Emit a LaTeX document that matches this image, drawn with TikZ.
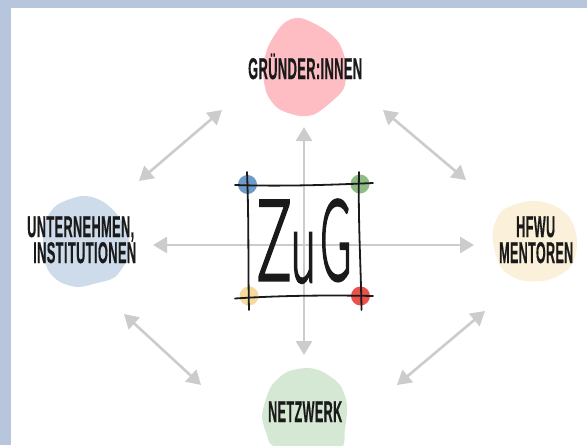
\documentclass[tikz,border=0pt]{standalone}
\usepackage{fontspec}
\usepackage{graphicx}
\setmainfont{Liberation Sans}
\newfontfamily\handfont[LetterSpace=3,BoldFeatures={FakeBold=0.8}]{Liberation Sans}
\newfontfamily\zugfont[FakeBold=3]{Lato Light}
\usetikzlibrary{arrows.meta}
\definecolor{frameblue}{HTML}{B7C6DD}
\definecolor{arrowgrey}{HTML}{CCCCCC}
\definecolor{blobpink}{HTML}{FDBDC3}
\definecolor{blobblue}{HTML}{CDDBEA}
\definecolor{blobyellow}{HTML}{FBF0D9}
\definecolor{blobgreen}{HTML}{D5E8D4}
\definecolor{dotblue}{HTML}{6F9BC8}
\definecolor{dotgreen}{HTML}{8FBB85}
\definecolor{dotyellow}{HTML}{F6DA9E}
\definecolor{dotred}{HTML}{E8524A}
\definecolor{inkblack}{HTML}{1A1A1A}
\newcommand{\handtext}[2]{\resizebox{#1pt}{\height}{\fontsize{30}{30}\handfont\bfseries #2}}
\tikzset{
  x=1pt,y=-1pt,
  link/.style={draw=arrowgrey,line width=2.6pt,{Triangle[length=14pt,width=16pt]}-{Triangle[length=14pt,width=16pt]}},
  blob/.style={line width=0pt,smooth cycle,tension=0.5},
  label/.style={inner sep=0pt,anchor=base west,text=inkblack},
  sketch/.style={draw=inkblack,line width=1.8pt,line cap=round},
  cornerdot/.style={circle,minimum size=19pt,inner sep=0pt}
}
\begin{document}
\begin{tikzpicture}
\useasboundingbox (0,0) rectangle (587,445);
\clip (0,0) rectangle (587,445);
\fill[white] (0,0) rectangle (587,445);
\fill[frameblue] (0,0) rectangle (587,8);
\fill[frameblue] (0,0) rectangle (10.5,445);
% blobs
\fill[blobpink] plot[blob] coordinates {(300,18)(324,29)(339,43)(346,64)(344,88)(330,103)(315,114)(300,116)(279,109)(267,94)(263,71)(268,47)(283,24)};
\fill[blobblue] plot[blob] coordinates {(82,196)(100,200)(115,212)(128,233)(128,257)(115,277)(97,283)(78,287)(60,282)(48,270)(43,250)(45,223)(57,205)};
\fill[blobyellow] plot[blob] coordinates {(530,201)(553,205)(570,218)(577,240)(573,263)(560,275)(543,281)(520,280)(503,270)(495,252)(493,230)(503,210)};
\fill[blobgreen] plot[blob] coordinates {(307,368)(323,372)(340,385)(347,405)(345,428)(340,450)(300,460)(272,445)(267,435)(262,418)(265,402)(272,385)(287,372)};
% connector ends
\coordinate (top) at (304,127);
\coordinate (bottom) at (304,355);
\coordinate (left) at (153,245);
\coordinate (right) at (474,245);
\coordinate (tlA) at (222,110);
\coordinate (tlB) at (139,181);
\coordinate (trA) at (383,110);
\coordinate (trB) at (466,180);
\coordinate (blA) at (124,314);
\coordinate (blB) at (201,385);
\coordinate (brA) at (485,311);
\coordinate (brB) at (397,385);
\draw[link] (top) -- (bottom);
\draw[link] (left) -- (right);
\draw[link] (tlA) -- (tlB);
\draw[link] (trA) -- (trB);
\draw[link] (blA) -- (blB);
\draw[link] (brA) -- (brB);
% corner dots
\node[cornerdot,fill=dotblue] (dotA) at (247.5,184.5) {};
\node[cornerdot,fill=dotgreen] (dotB) at (360,184) {};
\node[cornerdot,fill=dotyellow] (dotC) at (249,296) {};
\node[cornerdot,fill=dotred] (dotD) at (360.5,296) {};
% sketched frame
\draw[sketch] (235,185) .. controls (280,186.5) and (330,185) .. (373,183);
\draw[sketch] (235,298.5) .. controls (280,295.5) and (330,295) .. (373,296);
\draw[sketch] (247,172) .. controls (249,220) and (248,270) .. (249,310);
\draw[sketch] (359,172) .. controls (358,220) and (361,270) .. (361.5,310);
% title
\node[inner sep=0pt,anchor=base west,text=inkblack] (zug) at (257,280) {\fontsize{112}{112}\zugfont\resizebox{34pt}{\height}{Z}\raisebox{-2pt}{\resizebox{24pt}{49pt}{u}}\hspace{5pt}\resizebox{31pt}{\height}{G}};
% labels
\node[label] (gruender) at (248,79) {\handtext{114}{GRÜNDER:INNEN}};
\node[label] (unternehmen) at (27,237) {\handtext{107}{UNTERNEHMEN,}};
\node[label] (institutionen) at (33,263) {\handtext{103}{INSTITUTIONEN}};
\node[label] (hfwu) at (516,237) {\handtext{39}{HFWU}};
\node[label] (mentoren) at (499,263) {\handtext{74}{MENTOREN}};
\node[label] (netzwerk) at (268,422) {\handtext{74}{NETZWERK}};
\end{tikzpicture}
\end{document}
